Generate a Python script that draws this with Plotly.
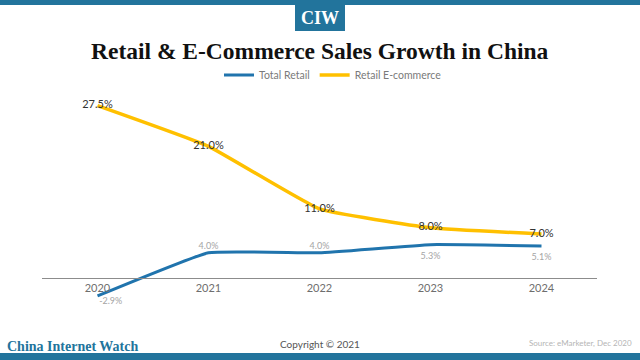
import plotly.graph_objects as go

years = ["2020", "2021", "2022", "2023", "2024"]
total_retail = [-2.9, 4.0, 4.0, 5.3, 5.1]
retail_ecom = [27.5, 21.0, 11.0, 8.0, 7.0]
total_labels = ["-2.9%", "4.0%", "4.0%", "5.3%", "5.1%"]
ecom_labels = ["27.5%", "21.0%", "11.0%", "8.0%", "7.0%"]

W, H = 640, 360
ML, MR, MT, MB = 42, 43, 90, 54
PW, PH = W - ML - MR, H - MT - MB
Y0, Y1 = -4.5, 30

def px(x):
    return (x - ML) / PW

def py(y):
    return (H - MB - y) / PH

BLUE = "#22749c"
GOLD = "#FFC000"

fig = go.Figure()
fig.add_trace(go.Scatter(
    x=years, y=total_retail, name="Total Retail", mode="lines+markers+text",
    line=dict(color="#2074ad", width=3, shape="spline", smoothing=0.3),
    marker=dict(size=[1, 1, 1, 10, 10], color="rgba(0,0,0,0)", line=dict(width=0)),
    text=total_labels,
    textposition=["bottom right", "top center", "top center", "bottom center", "bottom center"],
    textfont=dict(family="Lato", size=9, color="#a5a5a5"),
))
fig.add_trace(go.Scatter(
    x=years, y=retail_ecom, name="Retail E-commerce", mode="lines+text",
    line=dict(color=GOLD, width=3.5, shape="spline", smoothing=0.35),
    text=ecom_labels, textposition="middle center",
    textfont=dict(family="Lato", size=11, color="#333333"),
))

zero_pos = (0 - Y0) / (Y1 - Y0)

fig.update_layout(
    width=W, height=H,
    margin=dict(l=ML, r=MR, t=MT, b=MB, autoexpand=False),
    paper_bgcolor="white", plot_bgcolor="white",
    showlegend=True,
    legend=dict(orientation="h", x=px(333), xanchor="center", y=py(75), yanchor="middle",
                font=dict(family="Lato", size=10.5, color="#7a7a7a"),
                itemwidth=30, tracegroupgap=0, bgcolor="rgba(0,0,0,0)"),
    xaxis=dict(type="category", range=[-0.5, 4.5], anchor="free", position=zero_pos,
               showline=True, linecolor="#8c8c8c", linewidth=1, showgrid=False,
               zeroline=False, ticks="",
               tickfont=dict(family="Lato", size=11, color="#6e6e6e")),
    yaxis=dict(range=[Y0, Y1], visible=False, showgrid=False, zeroline=False),
    shapes=[
        dict(type="rect", xref="paper", yref="paper", x0=px(0), x1=px(W), y0=py(0), y1=py(5),
             fillcolor=BLUE, line=dict(width=0), layer="below"),
        dict(type="rect", xref="paper", yref="paper", x0=px(295), x1=px(345), y0=py(5), y1=py(31),
             fillcolor=BLUE, line=dict(width=0), layer="below"),
        dict(type="rect", xref="paper", yref="paper", x0=px(0), x1=px(W), y0=py(353), y1=py(H),
             fillcolor=BLUE, line=dict(width=0), layer="below"),
    ],
    annotations=[
        dict(text="<b>CIW</b>", xref="paper", yref="paper", x=px(320), y=py(18),
             xanchor="center", yanchor="middle", showarrow=False,
             font=dict(family="Liberation Serif", size=18, color="white")),
        dict(text="<b>Retail & E-Commerce Sales Growth in China</b>", xref="paper", yref="paper",
             x=px(320), y=py(51), xanchor="center", yanchor="middle", showarrow=False,
             font=dict(family="Liberation Serif", size=23.5, color="#111111")),
        dict(text="<b>China Internet Watch</b>", xref="paper", yref="paper",
             x=px(5), y=py(346), xanchor="left", yanchor="middle", showarrow=False,
             font=dict(family="Liberation Serif", size=14, color=BLUE)),
        dict(text="Copyright © 2021", xref="paper", yref="paper",
             x=px(320), y=py(344), xanchor="center", yanchor="middle", showarrow=False,
             font=dict(family="Lato", size=10, color="#555555")),
        dict(text="Source: eMarketer, Dec 2020", xref="paper", yref="paper",
             x=px(634), y=py(343), xanchor="right", yanchor="middle", showarrow=False,
             font=dict(family="Lato", size=8, color="#b5b5b5")),
    ],
)

fig.write_html("out.html", config={"displayModeBar": False},
               post_script="document.body.style.margin='0';")
